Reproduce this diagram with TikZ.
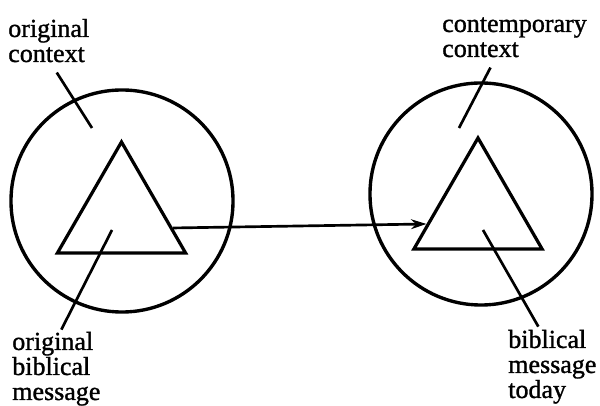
\documentclass[tikz,border=0pt]{standalone}
\usepackage{fontspec}
\setmainfont{Liberation Serif}
\newfontfamily\lblfont{Liberation Serif}[FakeBold=1.2]
\usetikzlibrary{positioning, arrows.meta, calc, shapes.geometric}

\begin{document}
\begin{tikzpicture}[x=0.025cm, y=-0.025cm,
    ctx/.style={draw, circle, line width=2.4pt, minimum size=5.55cm, inner sep=0pt},
    msg/.style={draw, regular polygon, regular polygon sides=3, line width=2.3pt, minimum size=3.7cm, inner sep=0pt},
    lbl/.style={align=left, inner sep=0pt, anchor=base west, font=\lblfont\fontsize{18.5}{17.8}\selectfont},
    leader/.style={line width=1.9pt}]
    \useasboundingbox (0,0) rectangle (600,406);
    % contexts and messages
    \node[ctx] (octx) at (122,201) {};
    \node[ctx] (cctx) at (481,194) {};
    \node[msg] (omsg) at (121.5,216) {};
    \node[msg] (cmsg) at (478,212) {};
    % labels (base = last line)
    \node[lbl] (octxlbl) at (8,62) {original\\context};
    \node[lbl] (cctxlbl) at (442,57) {contemporary\\context};
    \node[lbl] (omsglbl) at (12,400) {original\\biblical\\message};
    \node[lbl] (cmsglbl) at (508,398) {biblical\\message\\today};
    % leader lines
    \coordinate (octxpt) at (92,128);
    \coordinate (cctxpt) at (459,128);
    \coordinate (omsgpt) at (112,230);
    \coordinate (cmsgpt) at (483,230);
    \draw[leader] ($(octxlbl.south)+(8,10)$) -- (octxpt);
    \draw[leader] ($(cctxlbl.south)+(-24,10)$) -- (cctxpt);
    \draw[leader] ($(omsglbl.north)+(5,-2)$) -- (omsgpt);
    \draw[leader] ($(cmsglbl.north)+(-14,-3)$) -- (cmsgpt);
    % message carried over
    \draw[leader, -{Stealth[length=11pt, width=7pt]}]
      ($(omsg.corner 1)!0.77!(omsg.corner 3)$) -- ($(cmsg.corner 1)!0.77!(cmsg.corner 2)$);
  \end{tikzpicture}
\end{document}
